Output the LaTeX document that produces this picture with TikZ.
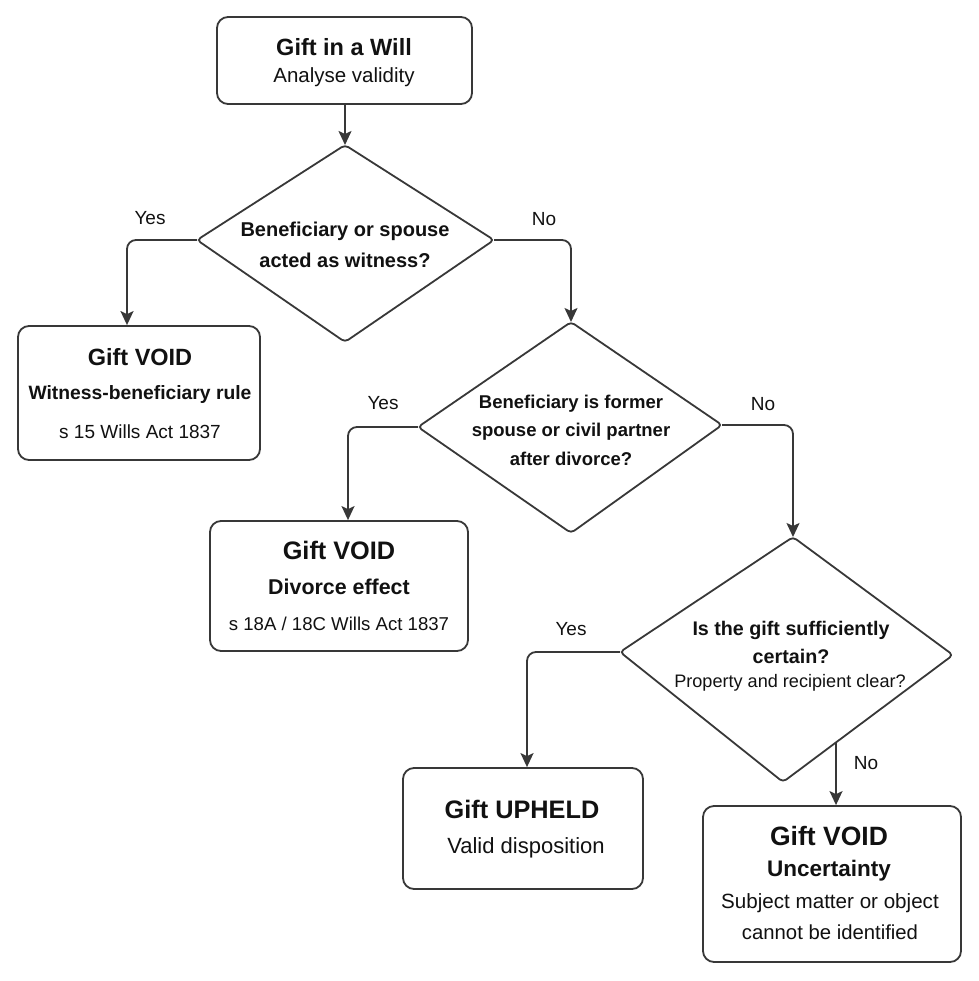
\documentclass[tikz,border=0pt]{standalone}
\usepackage{fontspec}
\setmainfont{Liberation Sans}
\usetikzlibrary{arrows.meta}
\definecolor{lc}{HTML}{383838}
\definecolor{tc}{HTML}{111111}
\newcommand{\fs}[1]{\fontsize{#1}{#1}\selectfont}
\begin{document}
\begin{tikzpicture}[x=1pt,y=-1pt,
  box/.style={draw=lc, line width=1.8pt, rounded corners=11pt, fill=white, inner sep=0pt},
  dia/.style={draw=lc, line width=1.8pt, rounded corners=4pt, line join=round},
  conn/.style={draw=lc, line width=1.8pt, -{Stealth[length=14pt,width=13pt,inset=3pt]}, rounded corners=9pt},
  tb/.style={font=\bfseries, text=tc, inner sep=0pt},
  tr/.style={text=tc, inner sep=0pt},
  lbl/.style={font=\fs{19}, text=tc, inner sep=0pt}]
\useasboundingbox (0,0) rectangle (978,981);
% boxes
\node[box, minimum width=255pt, minimum height=87pt] (b1) at (344.5,60.5) {};
\node[box, minimum width=242pt, minimum height=134pt] (b2) at (139,393) {};
\node[box, minimum width=258pt, minimum height=130pt] (b3) at (339,586) {};
\node[box, minimum width=240pt, minimum height=121pt] (b4) at (523,828.5) {};
\node[box, minimum width=258pt, minimum height=156pt] (b5) at (832,884) {};
% diamonds
\coordinate (d1t) at (345,145); \coordinate (d1r) at (494,240);
\coordinate (d1b) at (345,342); \coordinate (d1l) at (197,240);
\draw[dia] (d1t) -- (d1r) -- (d1b) -- (d1l) -- cycle;
\coordinate (d2t) at (571,322); \coordinate (d2r) at (722,425);
\coordinate (d2b) at (571,533); \coordinate (d2l) at (418,427);
\draw[dia] (d2t) -- (d2r) -- (d2b) -- (d2l) -- cycle;
\coordinate (d3t) at (793,537); \coordinate (d3r) at (953,655);
\coordinate (d3b) at (783,782); \coordinate (d3l) at (620,652);
\draw[dia] (d3t) -- (d3r) -- (d3b) -- (d3l) -- cycle;
\coordinate (d3n) at (836,742);
% texts
\node[tb, font=\bfseries\fs{23.5}] (t1a) at (344,47) {Gift in a Will};
\node[tr, font=\fs{20.5}] (t1b) at (344,77) {Analyse validity};
\node[tb, font=\bfseries\fs{20}] (q1a) at (345,231) {Beneficiary or spouse};
\node[tb, font=\bfseries\fs{20}] (q1b) at (345,260) {acted as witness?};
\node[tb, font=\bfseries\fs{23.5}] (t2a) at (140,357) {Gift VOID};
\node[tb, font=\bfseries\fs{19.3}] (t2b) at (140,395) {Witness-beneficiary rule};
\node[tr, font=\fs{19}] (t2c) at (140,432) {s 15 Wills Act 1837};
\node[tb, font=\bfseries\fs{18.5}] (q2a) at (571,404) {Beneficiary is former};
\node[tb, font=\bfseries\fs{18.5}] (q2b) at (571,432) {spouse or civil partner};
\node[tb, font=\bfseries\fs{18.5}] (q2c) at (571,459) {after divorce?};
\node[tb, font=\bfseries\fs{25.3}] (t3a) at (339,550) {Gift VOID};
\node[tb, font=\bfseries\fs{21.4}] (t3b) at (339,587) {Divorce effect};
\node[tr, font=\fs{18.6}] (t3c) at (339,624) {s 18A / 18C Wills Act 1837};
\node[tb, font=\bfseries\fs{19.7}] (q3a) at (791,630) {Is the gift sufficiently};
\node[tb, font=\bfseries\fs{19.7}] (q3b) at (791,656) {certain?};
\node[tr, font=\fs{18.1}] (q3c) at (790,683) {Property and recipient clear?};
\node[tb, font=\bfseries\fs{25.3}] (t4a) at (522,809) {Gift UPHELD};
\node[tr, font=\fs{22}] (t4b) at (526,848) {Valid disposition};
\node[tb, font=\bfseries\fs{26.5}] (t5a) at (829,836) {Gift VOID};
\node[tb, font=\bfseries\fs{22.5}] (t5b) at (829,871) {Uncertainty};
\node[tr, font=\fs{20.6}] (t5c) at (830,903) {Subject matter or object};
\node[tr, font=\fs{20.3}] (t5d) at (830,932) {cannot be identified};
% connectors
\draw[conn] (d1t |- b1.south) -- (d1t);
\draw[conn] (d1l) -| ([xshift=-12pt]b2.north);
\draw[conn] (d1r) -| (d2t);
\draw[conn] (d2l) -| ([xshift=9pt]b3.north);
\draw[conn] (d2r) -| (d3t);
\draw[conn] (d3l) -| ([xshift=4pt]b4.north);
\draw[conn] (d3n) -- ([xshift=4pt]b5.north);
% labels
\node[lbl] (l1) at (150,218) {Yes};
\node[lbl] (l2) at (544,219) {No};
\node[lbl] (l3) at (383,403) {Yes};
\node[lbl] (l4) at (763,404) {No};
\node[lbl] (l5) at (571,629) {Yes};
\node[lbl] (l6) at (866,763) {No};
\end{tikzpicture}
\end{document}
